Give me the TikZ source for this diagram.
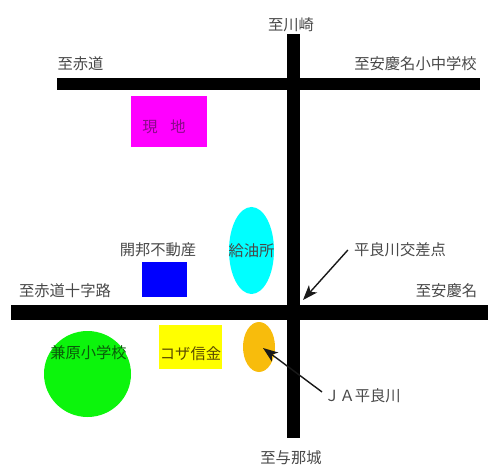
\documentclass[tikz,border=0pt]{standalone}
\usepackage{fontspec}
\setmainfont{Noto Sans CJK JP}
\usetikzlibrary{arrows.meta,shapes.geometric}
\definecolor{orangeja}{HTML}{F8BC0C}
\definecolor{greenk}{HTML}{0CF50C}
\definecolor{puremagenta}{HTML}{FF00FF}
\definecolor{purecyan}{HTML}{00FFFF}
\definecolor{pureblue}{HTML}{0000FF}
\definecolor{pureyellow}{HTML}{FFFF00}
\definecolor{inkgray}{HTML}{484848}
\definecolor{inkpurple}{HTML}{8A0A8A}
\definecolor{inkgreen}{HTML}{0A5A0A}
\definecolor{inkolive}{HTML}{5A4A00}
\tikzset{
  road/.style={fill=black,draw=none,rectangle,inner sep=0pt},
  lbl/.style={font=\fontsize{15.3}{15.3}\selectfont,text=inkgray,inner sep=0pt,anchor=center},
  pointer/.style={draw=black!90,line width=1.4pt,-{Stealth[length=15pt,width=11pt,inset=4pt]}},
  blob/.style={draw=none,ellipse,inner sep=0pt},
  box/.style={draw=none,rectangle,inner sep=0pt}
}
\begin{document}
\begin{tikzpicture}[x=1pt,y=-1pt]
\useasboundingbox (0,0) rectangle (488,468);
% roads
\node[road,minimum width=422.5pt,minimum height=12.5pt] (roadtop) at (268.25,84) {};
\node[road,minimum width=477pt,minimum height=15pt] (roadmid) at (249.5,312.5) {};
\node[road,minimum width=13pt,minimum height=404pt] (roadv) at (293,236) {};
% places
\node[box,fill=puremagenta,minimum width=76pt,minimum height=51pt] (genchi) at (169,121.5) {};
\node[box,fill=pureblue,minimum width=45pt,minimum height=35pt] (kaiho) at (164.5,279.5) {};
\node[blob,fill=purecyan,minimum width=45pt,minimum height=87pt] (kyuyu) at (251.5,250.5) {};
\node[box,fill=pureyellow,minimum width=63pt,minimum height=44pt] (koza) at (190.5,347) {};
\node[blob,fill=greenk,minimum width=87pt,minimum height=86pt] (kanehara) at (87.5,374) {};
\node[blob,fill=orangeja,minimum width=32pt,minimum height=50pt] (ja) at (259,347) {};
% labels
\node[lbl] (t1) at (291,25) {至川崎};
\node[lbl] (t2) at (80.5,64) {至赤道};
\node[lbl] (t3) at (415.5,64) {至安慶名小中学校};
\node[lbl,text=inkpurple] (t4a) at (150,127) {現};
\node[lbl,text=inkpurple] (t4b) at (178,127) {地};
\node[lbl] (t5) at (158,250) {開邦不動産};
\node[lbl] (t6) at (251.5,251) {給油所};
\node[lbl] (t7) at (400,250) {平良川交差点};
\node[lbl] (t8) at (65,291) {至赤道十字路};
\node[lbl] (t9) at (446.5,291) {至安慶名};
\node[lbl,text=inkgreen] (t10) at (88.5,353) {兼原小学校};
\node[lbl,text=inkolive] (t11) at (190.5,354) {コザ信金};
\node[lbl] (t12) at (362.5,396) {ＪＡ平良川};
\node[lbl] (t13) at (291,458) {至与那城};
% pointers
\coordinate (cross) at (303,300);
\coordinate (jadot) at (263,348);
\draw[pointer] (t7.west)++(-6,0) -- (cross);
\draw[pointer] (t12.west)++(-2,-4) -- (jadot);
\end{tikzpicture}
\end{document}
